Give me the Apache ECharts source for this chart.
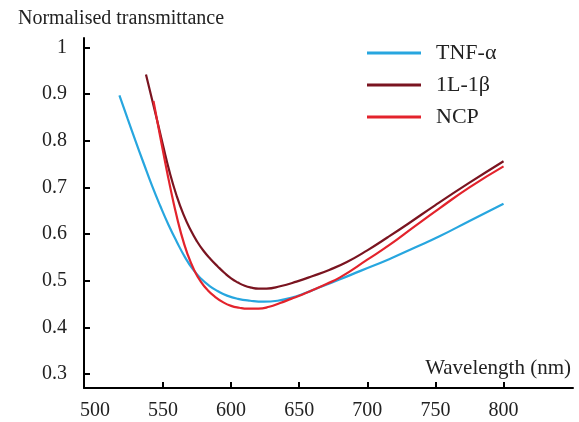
<!DOCTYPE html>
<html>
<head>
<meta charset="utf-8">
<script src="https://cdn.jsdelivr.net/npm/echarts@6/dist/echarts.min.js"></script>
<style>html,body{margin:0;padding:0;background:#fff}#c{width:579px;height:422px}</style>
</head>
<body>
<div id="c"></div>
<script>
const seriesNames = ['TNF-α', '1L-1β', 'NCP'];
const tnfData = [[518,0.897],[524,0.847],[530,0.798],[536,0.750],[542,0.703],[548,0.660],[554,0.620],[560,0.584],[566,0.551],[572,0.524],[578,0.504],[584,0.489],[590,0.478],[597,0.468],[605,0.461],[614,0.457],[624,0.455],[634,0.457],[644,0.463],[655,0.474],[667,0.488],[680,0.503],[695,0.521],[716,0.546],[735,0.571],[753,0.595],[775,0.628],[800,0.665]];
const ilData = [[537.5,0.942],[545,0.852],[550,0.790],[555,0.731],[560,0.682],[565,0.642],[570,0.610],[575,0.584],[580,0.563],[585,0.546],[590,0.531],[595,0.517],[600,0.505],[605,0.496],[610,0.489],[615,0.485],[620,0.483],[626,0.483],[636,0.488],[648,0.498],[660,0.510],[672,0.523],[685,0.540],[700,0.565],[715,0.593],[730,0.622],[750,0.662],[775,0.710],[800,0.756]];
const ncpData = [[543,0.885],[548,0.808],[553,0.733],[558,0.664],[563,0.604],[568,0.557],[573,0.522],[578,0.497],[583,0.479],[588,0.466],[594,0.454],[600,0.446],[606,0.442],[612,0.440],[620,0.440],[628,0.444],[636,0.452],[644,0.461],[652,0.470],[660,0.480],[670,0.493],[680,0.507],[700,0.545],[716,0.576],[735,0.617],[753,0.655],[775,0.700],[800,0.745]];
const xTickValues = [550,600,650,700,750,800];
const xLabelValues = [500,550,600,650,700,750,800];
const yTickValues = [0.3,0.4,0.5,0.6,0.7,0.8,0.9,1];
const colors = ['#27a6df', '#7a1420', '#e3232c'];
const font = 'Liberation Serif';

const chart = echarts.init(document.getElementById('c'));
const lineSeries = (i, data) => ({
  name: seriesNames[i], type: 'line', data: data, smooth: 0.5,
  showSymbol: false, lineStyle: {width: 2.2, color: colors[i]}, itemStyle: {color: colors[i]}
});
chart.setOption({
  animation: false,
  title: {
    text: 'Normalised transmittance',
    left: 13, top: 4,
    textStyle: {fontFamily: font, fontSize: 20, fontWeight: 'normal', color: '#222'}
  },
  legend: {
    orient: 'vertical',
    left: 362, top: 37,
    itemWidth: 54, itemHeight: 3, itemGap: 10,
    icon: 'rect',
    textStyle: {fontFamily: font, fontSize: 22, color: '#222', padding: [0,0,0,10]},
    data: seriesNames
  },
  grid: {left: 84, right: 6, top: 38, bottom: 34, containLabel: false},
  xAxis: {
    type: 'value', min: 492, max: 851,
    name: 'Wavelength (nm)', nameLocation: 'end', nameGap: -2,
    nameTextStyle: {fontFamily: font, fontSize: 21, color: '#222', align: 'right', verticalAlign: 'bottom', padding: [0,0,9,0]},
    axisLine: {lineStyle: {color: '#000', width: 2}},
    axisTick: {show: true, inside: true, length: 6, lineStyle: {color: '#000', width: 2}, customValues: xTickValues},
    axisLabel: {fontFamily: font, fontSize: 20, color: '#222', margin: 13, customValues: xLabelValues},
    splitLine: {show: false}
  },
  yAxis: {
    type: 'value', min: 0.27, max: 1.02,
    axisLine: {show: true, lineStyle: {color: '#000', width: 2}},
    axisTick: {show: true, inside: true, length: 6, lineStyle: {color: '#000', width: 2}, customValues: yTickValues},
    axisLabel: {fontFamily: font, fontSize: 20, color: '#222', margin: 17, customValues: yTickValues},
    splitLine: {show: false}
  },
  series: [lineSeries(0, tnfData), lineSeries(1, ilData), lineSeries(2, ncpData)]
});
</script>
</body>
</html>
